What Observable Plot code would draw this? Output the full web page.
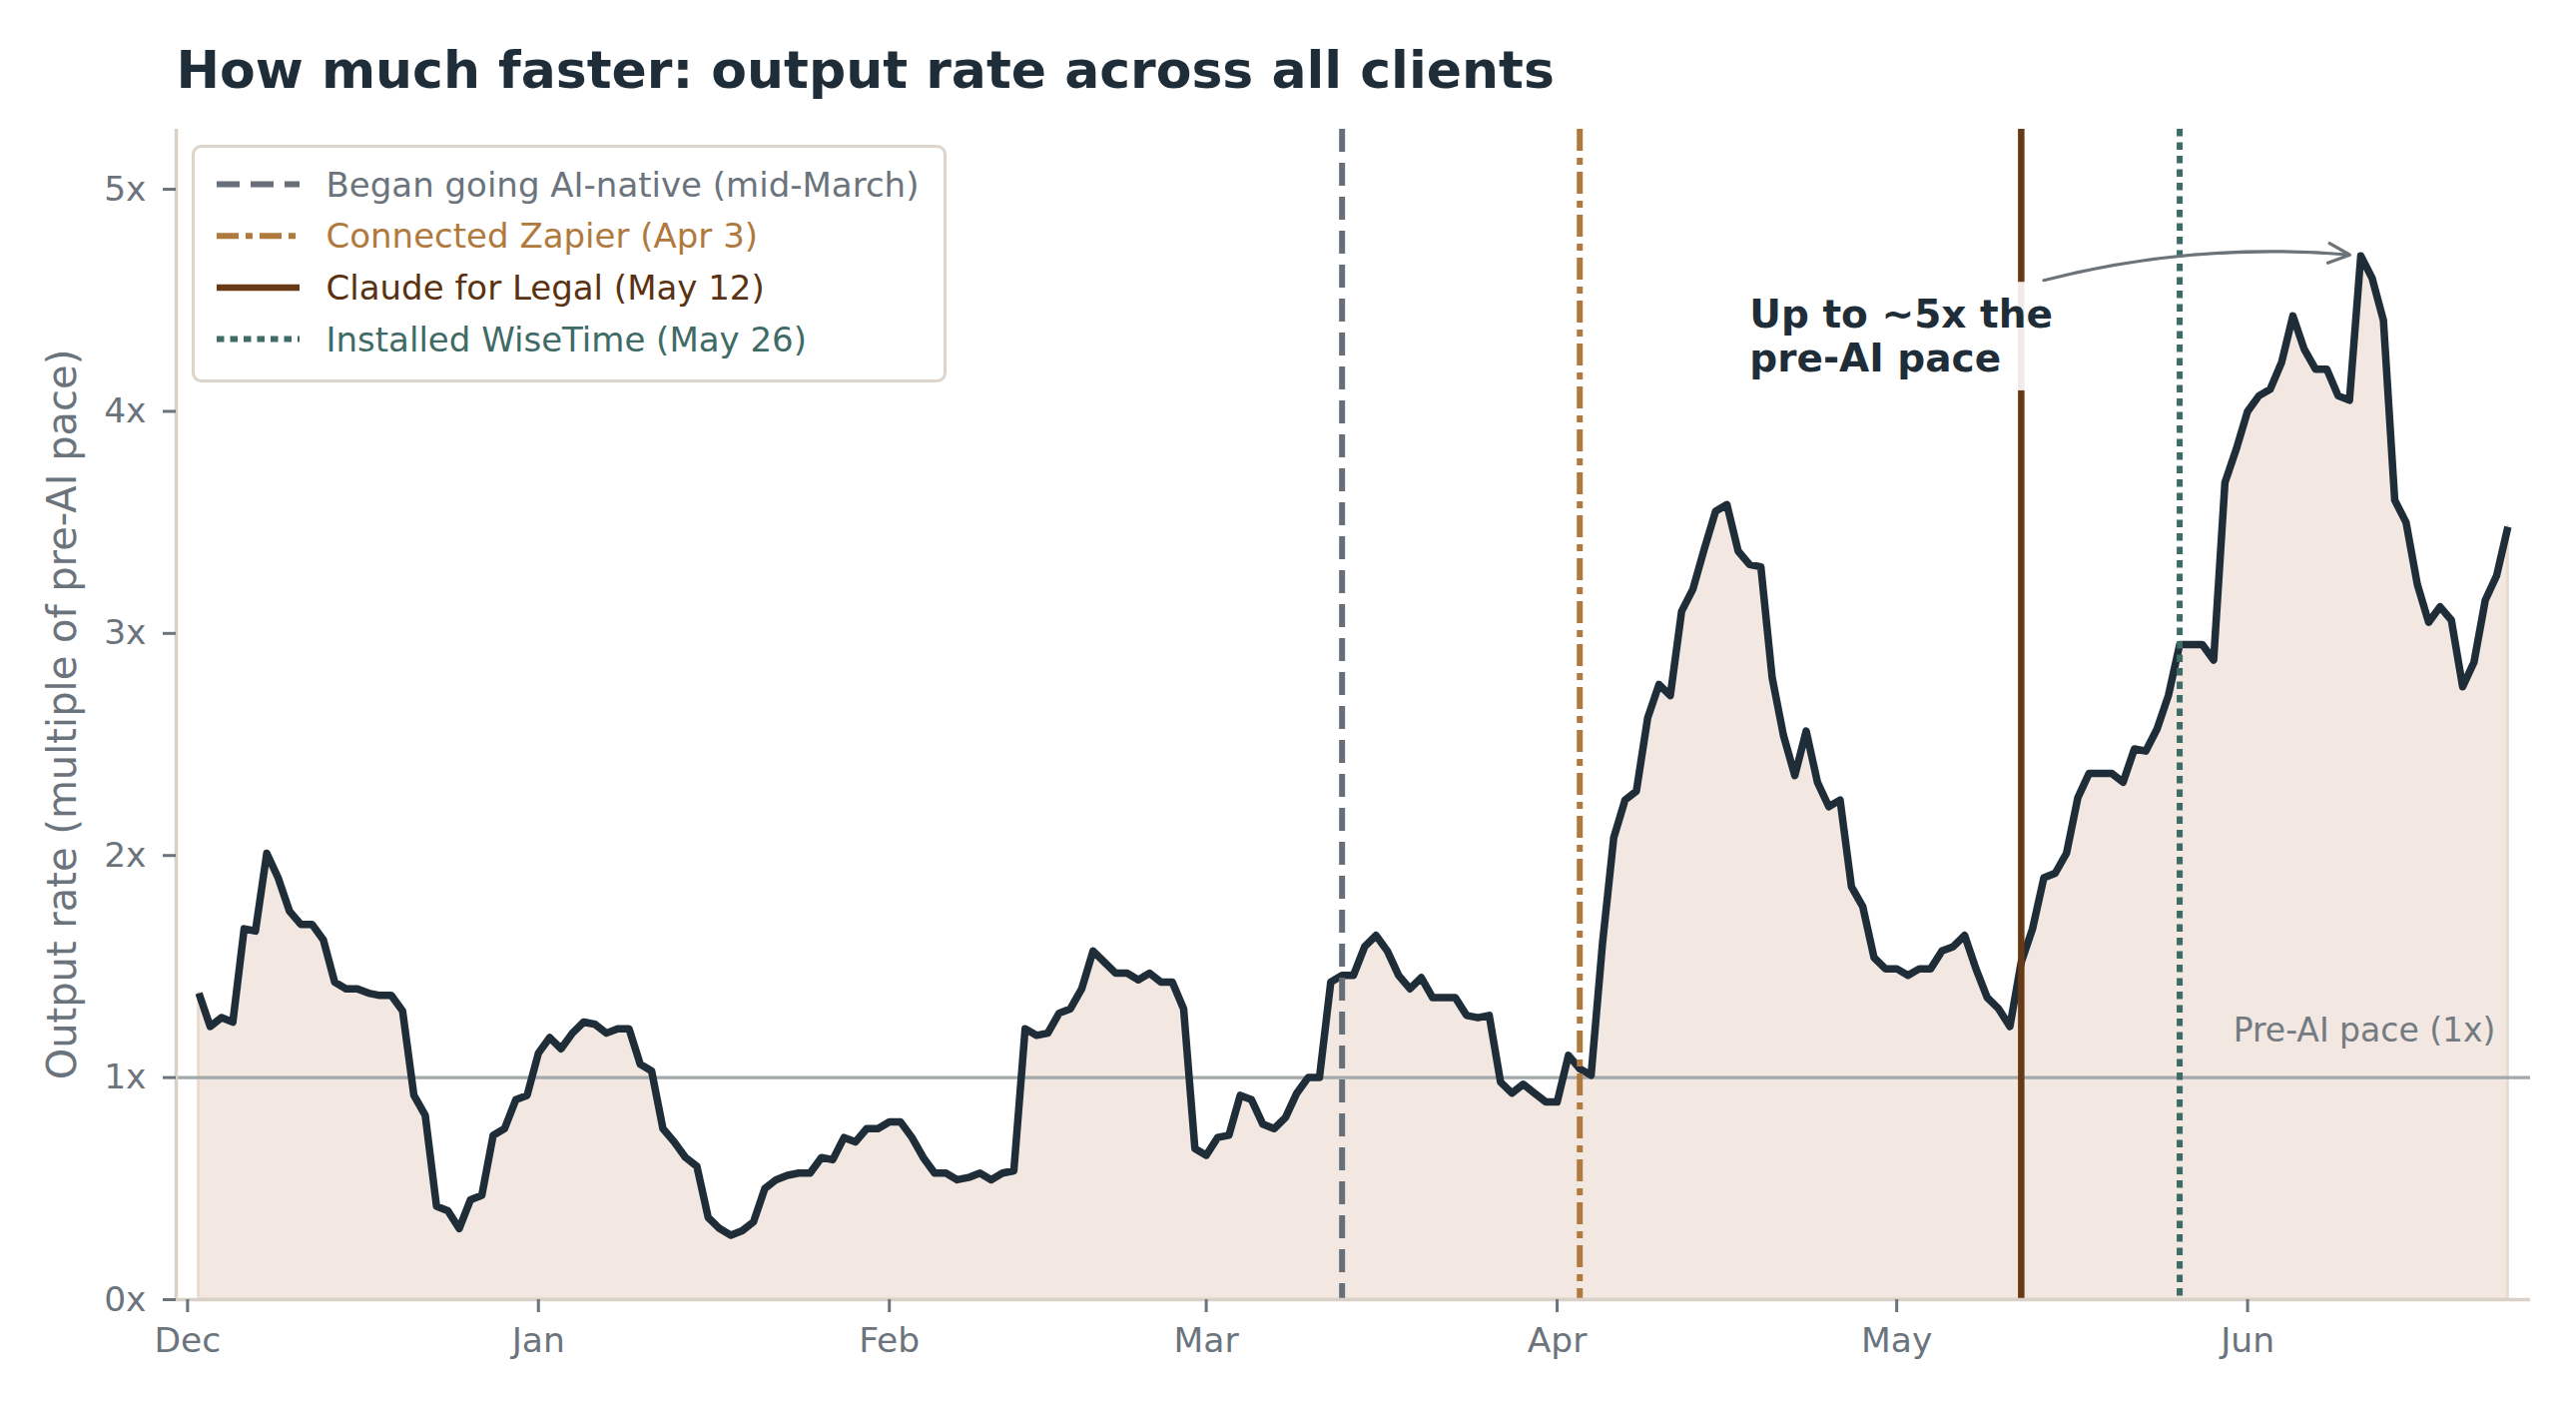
<!DOCTYPE html>
<html>
<head>
<meta charset="utf-8">
<script src="https://cdn.jsdelivr.net/npm/d3@7"></script>
<script src="https://cdn.jsdelivr.net/npm/@observablehq/plot@0.6"></script>
<style>
  html, body { margin: 0; padding: 0; background: #ffffff; overflow: hidden; }
  svg { display: block; }
</style>
</head>
<body>
<div id="chart"></div>
<script>
// ---------------- DATA ----------------
const title = "How much faster: output rate across all clients";
const yLabel = "Output rate (multiple of pre-AI pace)";
const baselineLabel = "Pre-AI pace (1x)";
const annotationText = "Up to ~5x the\npre-AI pace";

// daily series, first day 2024-12-02
const seriesStart = "2024-12-02";
const values = [
  1.38, 1.23, 1.27, 1.25, 1.67, 1.66, 2.01, 1.90, 1.75, 1.69,
  1.69, 1.62, 1.43, 1.40, 1.40, 1.38, 1.37, 1.37, 1.30, 0.92,
  0.83, 0.42, 0.40, 0.32, 0.45, 0.47, 0.74, 0.77, 0.90, 0.92,
  1.11, 1.18, 1.13, 1.20, 1.25, 1.24, 1.20, 1.22, 1.22, 1.06,
  1.03, 0.77, 0.71, 0.64, 0.60, 0.37, 0.32, 0.29, 0.31, 0.35,
  0.50, 0.54, 0.56, 0.57, 0.57, 0.64, 0.63, 0.73, 0.71, 0.77,
  0.77, 0.80, 0.80, 0.73, 0.64, 0.57, 0.57, 0.54, 0.55, 0.57,
  0.54, 0.57, 0.58, 1.22, 1.19, 1.20, 1.29, 1.31, 1.40, 1.57,
  1.52, 1.47, 1.47, 1.44, 1.47, 1.43, 1.43, 1.31, 0.68, 0.65,
  0.73, 0.74, 0.92, 0.90, 0.79, 0.77, 0.82, 0.93, 1.00, 1.00,
  1.43, 1.46, 1.46, 1.59, 1.64, 1.57, 1.46, 1.40, 1.45, 1.36,
  1.36, 1.36, 1.28, 1.27, 1.28, 0.98, 0.93, 0.97, 0.93, 0.89,
  0.89, 1.10, 1.04, 1.01, 1.60, 2.08, 2.25, 2.29, 2.62, 2.77,
  2.72, 3.10, 3.20, 3.38, 3.55, 3.58, 3.37, 3.31, 3.30, 2.80,
  2.54, 2.36, 2.56, 2.33, 2.22, 2.25, 1.86, 1.77, 1.54, 1.49,
  1.49, 1.46, 1.49, 1.49, 1.57, 1.59, 1.64, 1.49, 1.36, 1.31,
  1.23, 1.52, 1.67, 1.90, 1.92, 2.01, 2.26, 2.37, 2.37, 2.37,
  2.33, 2.48, 2.47, 2.57, 2.72, 2.95, 2.95, 2.95, 2.88, 3.68,
  3.83, 4.00, 4.07, 4.10, 4.22, 4.43, 4.28, 4.19, 4.19, 4.07,
  4.05, 4.70, 4.60, 4.41, 3.60, 3.50, 3.22, 3.05, 3.12, 3.06,
  2.76, 2.87, 3.15, 3.26, 3.48
];

const eventLabels = [
  "Began going AI-native (mid-March)",
  "Connected Zapier (Apr 3)",
  "Claude for Legal (May 12)",
  "Installed WiseTime (May 26)"
];
const eventDates = ["2025-03-13", "2025-04-03", "2025-05-12", "2025-05-26"];

const monthTicks = ["2024-12-01", "2025-01-01", "2025-02-01", "2025-03-01", "2025-04-01", "2025-05-01", "2025-06-01"];
const yTicks = [0, 1, 2, 3, 4, 5];
const xDomain = ["2024-11-30", "2025-06-26"];
const yDomain = [0, 5.27];
const baselineValue = 1;

// annotation anchors (data coordinates)
const annotationAt = {date: "2025-04-18", value: 4.18};
const arrowFrom = {date: "2025-05-14", value: 4.59};
const arrowTo = {date: "2025-06-11", value: 4.70};

// ---------------- STYLES ----------------
const DARK = "#1f2d38";
const GREY = "#6b747c";
const FILL = "#f3e8e1";
const FILL_EDGE = "#eadacd";
const SPINE = "#d9d1c8";
const eventStyles = [
  {color: "#676f78", dash: "23,11", width: 6},
  {color: "#b07a3e", dash: "22,7,7,7", width: 6},
  {color: "#673915", dash: null, width: 6.5},
  {color: "#3f6b66", dash: "7.5,6", width: 6}
];
const legendTextColors = ["#6b747c", "#b07a3e", "#5a3212", "#3f6b66"];

// ---------------- BUILD ----------------
const parse = d3.utcParse("%Y-%m-%d");
const start = parse(seriesStart);
const series = values.map((v, i) => ({date: d3.utcDay.offset(start, i), value: v}));
const events = eventLabels.map((label, i) => ({label, date: parse(eventDates[i])}));

const W = 2580, H = 1410;
const M = {left: 176, right: 46, top: 129, bottom: 109};

const eventMarks = events.map((e, i) =>
  Plot.ruleX([e.date], {
    stroke: eventStyles[i].color,
    strokeWidth: eventStyles[i].width,
    strokeDasharray: eventStyles[i].dash || undefined
  })
);

const chart = Plot.plot({
  width: W,
  height: H,
  marginLeft: M.left,
  marginRight: M.right,
  marginTop: M.top,
  marginBottom: M.bottom,
  style: {fontFamily: "'DejaVu Sans', sans-serif", fontSize: "34px", background: "#ffffff", overflow: "visible"},
  x: {type: "utc", domain: xDomain.map(parse)},
  y: {domain: yDomain},
  marks: [
    Plot.areaY(series, {x: "date", y: "value", fill: FILL, stroke: FILL_EDGE, strokeWidth: 3}),
    Plot.ruleY([baselineValue], {stroke: "#a3a8ab", strokeWidth: 3.3}),
    Plot.lineY(series, {x: "date", y: "value", stroke: DARK, strokeWidth: 7.5, strokeLinejoin: "round", strokeLinecap: "butt"}),
    ...eventMarks,
    Plot.ruleY([0], {stroke: SPINE, strokeWidth: 3.5}),
    Plot.ruleX([parse(xDomain[0])], {stroke: SPINE, strokeWidth: 3.5}),
    Plot.axisX({
      ticks: monthTicks.map(parse), tickFormat: d3.utcFormat("%b"),
      tickSize: 13, tickPadding: 15, color: GREY, strokeWidth: 3, fontSize: 34.5, label: null
    }),
    Plot.axisY({
      ticks: yTicks, tickFormat: d => d + "x",
      tickSize: 13, tickPadding: 17, color: GREY, strokeWidth: 3, fontSize: 34.5, label: null
    }),
    Plot.text([yLabel], {
      frameAnchor: "left", rotate: -90, dx: -101, textAnchor: "middle", lineAnchor: "bottom",
      fontSize: 40, fill: GREY
    }),
    Plot.text([title], {
      frameAnchor: "top-left", dy: -42, textAnchor: "start", lineAnchor: "bottom",
      fontSize: 52, fontWeight: "bold", fill: DARK
    }),
    Plot.text([baselineLabel], {
      y: () => baselineValue, frameAnchor: "right", dx: -35, dy: -36,
      textAnchor: "end", lineAnchor: "bottom", fontSize: 33, fill: "#737b82"
    }),
    Plot.text([annotationText], {
      x: () => parse(annotationAt.date), y: () => annotationAt.value,
      textAnchor: "start", lineAnchor: "bottom", lineHeight: 1.12,
      fontSize: 39, fontWeight: "bold", fill: DARK, className: "annot"
    }),
    Plot.arrow([{}], {
      x1: () => parse(arrowFrom.date), y1: () => arrowFrom.value,
      x2: () => parse(arrowTo.date), y2: () => arrowTo.value,
      bend: 10, insetEnd: 11, stroke: "#6b737b", strokeWidth: 3.2, headLength: 11, headAngle: 50
    })
  ]
});

document.getElementById("chart").appendChild(chart);

// white box behind the annotation
const ann = d3.select(chart).select("g.annot");
if (!ann.empty()) {
  const bb = ann.node().getBBox();
  const pad = 10;
  ann.insert("rect", ":first-child")
    .attr("x", bb.x - pad).attr("y", bb.y - pad)
    .attr("width", bb.width + 2 * pad).attr("height", bb.height + 2 * pad)
    .attr("fill", "#ffffff").attr("fill-opacity", 0.9).attr("stroke", "none");
}

// legend
const svg = d3.select(chart);
const L = {x: M.left + 17.5, y: M.top + 17.5, w: 753, h: 235, row: 51.7, first: 38};
const lg = svg.append("g")
  .attr("font-family", "'DejaVu Sans', sans-serif")
  .attr("font-size", 34)
  .attr("text-anchor", "start");
lg.append("rect")
  .attr("x", L.x).attr("y", L.y).attr("width", L.w).attr("height", L.h)
  .attr("rx", 8).attr("ry", 8)
  .attr("fill", "#ffffff").attr("fill-opacity", 0.85)
  .attr("stroke", "#ddd5cc").attr("stroke-width", 3);
events.forEach((e, i) => {
  const cy = L.y + L.first + i * L.row;
  const st = eventStyles[i];
  lg.append("line")
    .attr("x1", L.x + 23.5).attr("x2", L.x + 106.5)
    .attr("y1", cy).attr("y2", cy)
    .attr("stroke", st.color).attr("stroke-width", st.width)
    .attr("stroke-dasharray", st.dash);
  lg.append("text")
    .attr("x", L.x + 133).attr("y", cy + 12)
    .attr("text-anchor", "start")
    .attr("fill", legendTextColors[i])
    .text(e.label);
});
</script>
</body>
</html>
